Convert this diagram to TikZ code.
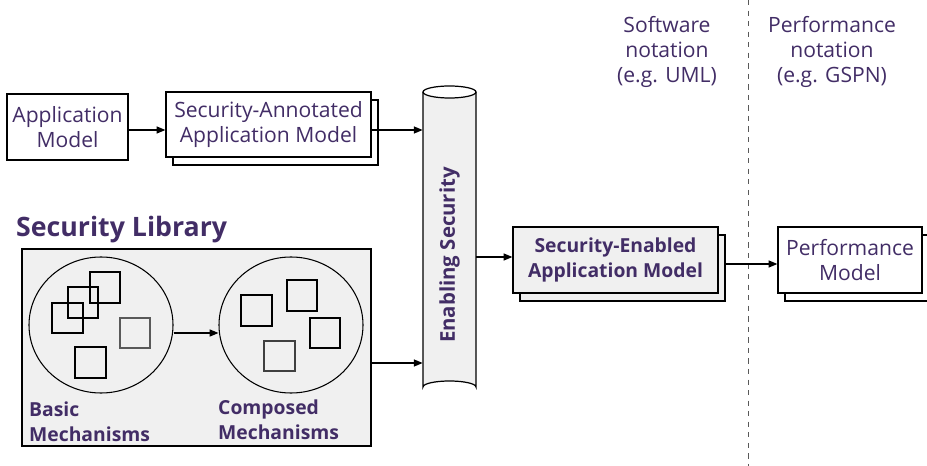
\documentclass[tikz,border=0pt]{standalone}
\usepackage{fontspec}
\setmainfont{Open Sans}
\usetikzlibrary{arrows.meta,shadows,shapes.geometric}
\newlength\pxu
\setlength\pxu{0.02cm}
\definecolor{ink}{RGB}{66,45,102}
\definecolor{panel}{RGB}{240,240,240}
\tikzset{
  txt/.style={text=ink,font=\fontsize{12}{14.2}\selectfont,align=center},
  boldtxt/.style={text=ink,font=\fontsize{11}{14.2}\selectfont\bfseries},
  modelbox/.style={draw,line width=0.7pt,fill=white,txt,inner sep=0pt},
  stacked/.style={copy shadow={shadow xshift=7\pxu,shadow yshift=-8\pxu,draw,line width=0.6pt}},
  flow/.style={line width=0.7pt,-{Triangle[length=5pt,width=4pt]}},
  mech/.style={draw,line width=0.6pt},
}
\begin{document}
\begin{tikzpicture}[x=\pxu,y=-\pxu]
\useasboundingbox (0,0) rectangle (927,466);

% notation columns
\draw[dashed,line width=0.5pt,gray!70!black] (748,0) -- (748,466);
\node[txt] (swn) at (667,52) {Software\\notation\\(e.g. UML)};
\node[txt] (pfn) at (832,52) {Performance\\notation\\(e.g. GSPN)};

% application models
\node[modelbox,minimum width=121\pxu,minimum height=66\pxu] (am) at (67.5,127) {Application\\Model};
\node[modelbox,stacked,minimum width=205\pxu,minimum height=65\pxu] (sa) at (268.5,124.5) {Security-Annotated\\Application Model};

% enabling security cylinder
\node[minimum width=53\pxu,minimum height=307\pxu,inner sep=0pt] (es) at (449.5,240) {};
\fill[panel] (423,92) -- (423,387) arc[start angle=180,end angle=360,x radius=26.5,y radius=6] -- (476,92) -- cycle;
\draw[line width=0.7pt] (423,92) -- (423,387) arc[start angle=180,end angle=360,x radius=26.5,y radius=6] -- (476,92);
\draw[line width=0.7pt,fill=white] (449.5,92) ellipse[x radius=26.5,y radius=6];
\node[boldtxt,font=\fontsize{11.6}{14.2}\selectfont\bfseries,rotate=90] (eslabel) at (449.5,255) {Enabling Security};

% security-enabled and performance models
\node[modelbox,stacked,fill=panel,font=\fontsize{11}{14.2}\selectfont\bfseries,minimum width=205\pxu,minimum height=66\pxu] (se) at (615.5,260) {Security-Enabled\\Application Model};
\node[modelbox,stacked,minimum width=144\pxu,minimum height=66\pxu] (pm) at (850,260) {Performance\\Model};

% security library
\node[text=ink,font=\fontsize{15.2}{17}\selectfont\bfseries,anchor=west] (sltitle) at (10,230) {Security Library};
\node[draw,line width=0.7pt,fill=panel,minimum width=349\pxu,minimum height=197\pxu] (lib) at (196.5,347.5) {};
\node[draw,line width=0.6pt,ellipse,minimum width=144\pxu,minimum height=136\pxu,inner sep=0pt] (c1) at (101,325) {};
\node[draw,line width=0.6pt,ellipse,minimum width=144\pxu,minimum height=136\pxu,inner sep=0pt] (c2) at (291,325) {};

% basic mechanisms
\draw[mech] (90,272) rectangle (120,303);
\draw[mech] (68,287) rectangle (98,318);
\draw[mech] (52,303) rectangle (83,333);
\draw[mech,black!65] (120,318) rectangle (150,348);
\draw[mech] (75,347) rectangle (106,378);
% composed mechanisms
\draw[mech] (241,295) rectangle (272,326);
\draw[mech] (287,280) rectangle (317,311);
\draw[mech] (310,318) rectangle (340,348);
\draw[mech,black!75] (264,341) rectangle (295,371);

\node[boldtxt,align=left,anchor=north west] (bm) at (23,396) {Basic\\Mechanisms};
\node[boldtxt,align=left,anchor=north west] (cm) at (212,394) {Composed\\Mechanisms};

% flow
\draw[flow] (am.east |- 0,130) -- (sa.west |- 0,130);
\draw[flow] (sa.east |- 0,130) -- (es.west |- 0,130);
\draw[flow] (c1.east |- 0,333) -- (c2.west |- 0,333);
\draw[flow] (lib.east |- 0,363) -- (es.west |- 0,363);
\draw[flow] (es.east |- 0,257) -- (se.west |- 0,257);
\draw[flow] ([xshift=7\pxu,yshift=-4\pxu]se.east) -- ([yshift=-4\pxu]pm.west);
\end{tikzpicture}
\end{document}
